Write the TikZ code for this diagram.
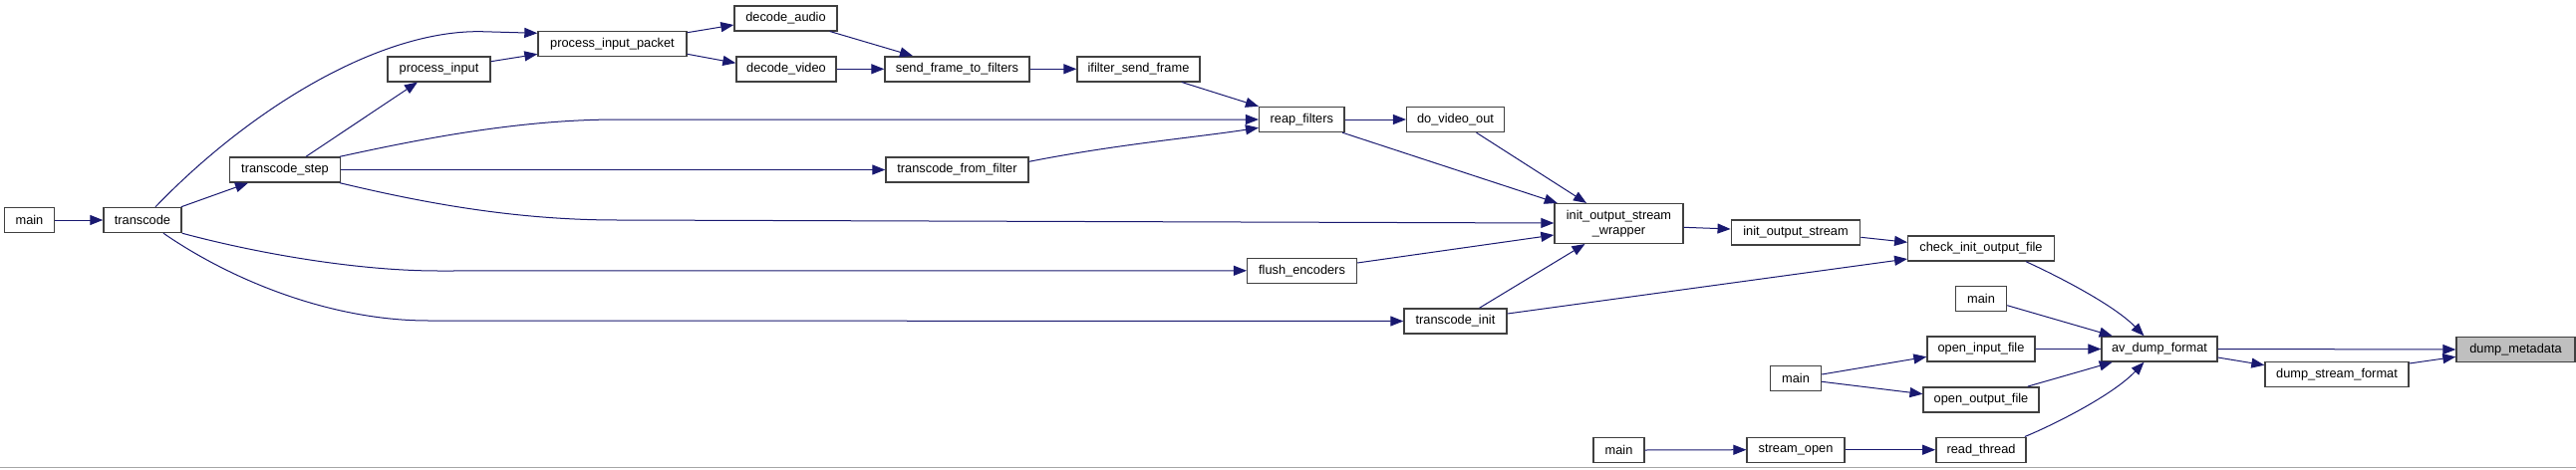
\documentclass[tikz,border=0pt]{standalone}
\usepackage{fontspec}
\setmainfont{Liberation Sans}
\usetikzlibrary{arrows.meta}
\definecolor{edgeblue}{HTML}{191970}
\definecolor{boxline}{HTML}{404040}
\definecolor{hlfill}{HTML}{BFBFBF}
\tikzset{
  fn/.style={draw=boxline, line width=1.4pt, fill=white, inner sep=0pt,
    minimum height=25pt, font=\fontsize{12.8}{15}\selectfont, align=center},
  hl/.style={fn, fill=hlfill},
  call/.style={draw=edgeblue, line width=1pt,
    -{Triangle[length=13pt,width=10pt,fill=edgeblue]}},
}
\begin{document}
\begin{tikzpicture}[x=1pt,y=-1pt]
\useasboundingbox (0,0) rectangle (2585,471);
\fill[white] (0,0) rectangle (2585,471);
\draw[black!35, line width=1pt] (0,469.8) -- (2585,469.8);

% nodes
\node[fn, minimum width=49.6pt] (mainA) at (29.5,221) {main};
\node[fn, minimum width=78pt] (transcode) at (143,221) {transcode};
\node[fn, minimum width=110.6pt] (tstep) at (286,170.5) {transcode\_step};
\node[fn, minimum width=103pt] (pinput) at (440.5,69.3) {process\_input};
\node[fn, minimum width=149pt] (pipacket) at (614.5,44) {process\_input\_packet};
\node[fn, minimum width=103pt] (daudio) at (788.5,18.3) {decode\_audio};
\node[fn, minimum width=100pt] (dvideo) at (789,69.3) {decode\_video};
\node[fn, minimum width=145pt] (sftf) at (960.5,69.3) {send\_frame\_to\_filters};
\node[fn, minimum width=123pt] (ifsf) at (1142.5,69.3) {ifilter\_send\_frame};
\node[fn, minimum width=85.3pt] (reap) at (1306.3,120) {reap\_filters};
\node[fn, minimum width=97.7pt] (dvo) at (1460.5,120) {do\_video\_out};
\node[fn, minimum width=143pt] (tff) at (960.5,170.5) {transcode\_from\_filter};
\node[fn, minimum width=129pt, minimum height=39.7pt] (iosw) at (1624.5,224.5) {init\_output\_stream\\\_wrapper};
\node[fn, minimum width=109.7pt] (flush) at (1306.5,271.8) {flush\_encoders};
\node[fn, minimum width=103pt] (tinit) at (1460.5,322.5) {transcode\_init};
\node[fn, minimum width=51pt] (mainD) at (1624.5,452) {main};
\node[fn, minimum width=129.5pt] (ios) at (1802,233.5) {init\_output\_stream};
\node[fn, minimum width=146.5pt] (ciof) at (1988,249.5) {check\_init\_output\_file};
\node[fn, minimum width=51pt] (mainB) at (1988,300) {main};
\node[fn, minimum width=108pt] (oif) at (1988,350.5) {open\_input\_file};
\node[fn, minimum width=51pt] (mainC) at (1802,380) {main};
\node[fn, minimum width=115.7pt] (oof) at (1988,401.3) {open\_output\_file};
\node[fn, minimum width=97.7pt] (sopen) at (1802,451.7) {stream\_open};
\node[fn, minimum width=90.3pt] (rthread) at (1988,451.7) {read\_thread};
\node[fn, minimum width=115.8pt] (adf) at (2167,350.5) {av\_dump\_format};
\node[fn, minimum width=144pt] (dsf) at (2345,376) {dump\_stream\_format};
\node[hl, minimum width=119pt] (dmeta) at (2524.5,351) {dump\_metadata};

% edges
\draw[call] (mainA.east) -- (transcode.west);
\draw[call] ([xshift=-1pt]transcode.north east) -- ([xshift=-37pt]tstep.south);
\draw[call] ([xshift=21pt]tstep.north) -- ([xshift=-21.5pt]pinput.south);
\draw[call] ([yshift=7.6pt]pinput.east) -- ([yshift=-10.3pt]pipacket.west);
\draw[call] ([xshift=13pt]transcode.north) .. controls (250,110) and (380,30) .. (483,31.7) -- ([yshift=10.7pt]pipacket.west);
\draw[call] ([yshift=11.3pt]pipacket.east) -- ([yshift=-6.7pt]daudio.west);
\draw[call] ([yshift=-10.3pt]pipacket.east) -- ([yshift=6pt]dvideo.west);
\draw[call] (dvideo.east) -- (sftf.west);
\draw[call] ([xshift=-8pt]daudio.south east) -- ([xshift=-44.5pt]sftf.north);
\draw[call] (sftf.east) -- (ifsf.west);
\draw[call] ([xshift=43.3pt]ifsf.south) -- (reap.north west);
\draw[call] ([xshift=-1pt]tstep.north east) .. controls (420,140) and (520,120) .. (620,120) -- (reap.west);
\draw[call] (tstep.east) -- (tff.west);
\draw[call] ([yshift=8.2pt]tff.east) .. controls (1120,145) and (1200,138) .. ([yshift=-8.3pt]reap.west);
\draw[call] (reap.east) -- (dvo.west);
\draw[call] ([xshift=-2.5pt]reap.south east) -- ([xshift=3.5pt]iosw.north west);
\draw[call] ([xshift=21pt]dvo.south) -- ([xshift=-32.5pt]iosw.north);
\draw[call] ([xshift=-1pt]tstep.south east) .. controls (430,205) and (520,221) .. (620,221) -- ([yshift=0.5pt]iosw.west);
\draw[call] (transcode.south east) .. controls (260,255) and (360,272) .. (440,272) -- (flush.west);
\draw[call] ([xshift=21pt]transcode.south) .. controls (230,280) and (330,322) .. (430,322) -- (tinit.west);
\draw[call] ([yshift=7.8pt]flush.east) -- ([yshift=-11.5pt]iosw.west);
\draw[call] ([xshift=24pt]tinit.north) -- ([xshift=-34pt]iosw.south);
\draw[call] ([yshift=7.5pt]tinit.east) -- ([yshift=-10.5pt]ciof.west);
\draw[call] ([yshift=-3.8pt]iosw.east) -- ([yshift=3.5pt]ios.west);
\draw[call] ([yshift=-4.8pt]ios.east) -- ([yshift=6.2pt]ciof.west);
\draw[call] ([xshift=45pt]ciof.south) .. controls (2060,275) and (2120,305) .. ([xshift=-15.5pt]adf.north);
\draw[call] ([yshift=-6.7pt]mainB.east) -- ([xshift=11.3pt]adf.north west);
\draw[call] (oif.east) -- (adf.west);
\draw[call] ([yshift=4pt]mainC.east) -- ([yshift=-7.8pt]oif.west);
\draw[call] ([yshift=-3.3pt]mainC.east) -- ([yshift=5.6pt]oof.west);
\draw[call] ([xshift=46.7pt]oof.north) -- ([xshift=11.3pt]adf.south west);
\draw[call] ([xshift=-2pt]rthread.north east) .. controls (2060,427) and (2120,397) .. ([xshift=-15.5pt]adf.south);
\draw[call] (mainD.east) -- (sopen.west);
\draw[call] (sopen.east) -- (rthread.west);
\draw[call] (adf.east) -- (dmeta.west);
\draw[call] ([yshift=-8.5pt]adf.east) -- ([yshift=9.3pt]dsf.west);
\draw[call] ([yshift=11pt]dsf.east) -- ([yshift=-7.3pt]dmeta.west);
\end{tikzpicture}
\end{document}
